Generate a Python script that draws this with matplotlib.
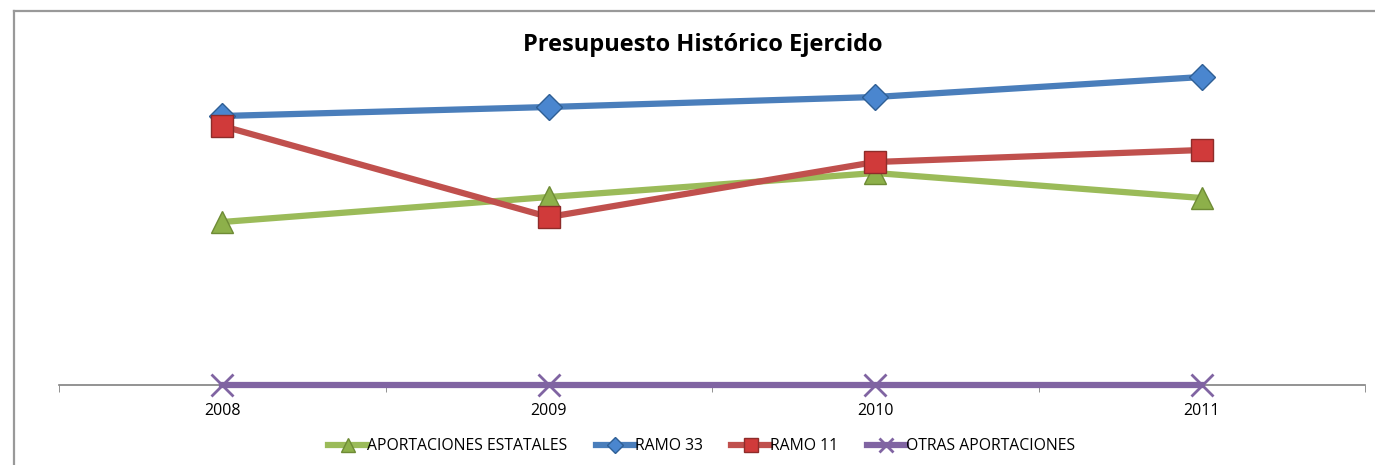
import matplotlib
matplotlib.use("Agg")
import matplotlib.pyplot as plt
from matplotlib.lines import Line2D

# valores estimados (escala arbitraria, millones)
years = ["2008", "2009", "2010", "2011"]
estatales = [163, 188, 212, 187]
ramo33 = [269, 278, 288, 308]
ramo11 = [259, 168, 223, 235]
otras = [0, 0, 0, 0]

plt.rcParams['font.family'] = ['Open Sans', 'DejaVu Sans']

fig = plt.figure(figsize=(13.75, 4.65), dpi=100)
ax = fig.add_axes([59 / 1375, 80 / 465, 1306 / 1375, 345 / 465])

x = range(len(years))
ax.plot(x, estatales, color='#9BBB59', lw=4.5, marker='^', ms=16,
        mfc='#8DB04A', mec='#6E8B35', label='APORTACIONES ESTATALES', zorder=3)
ax.plot(x, ramo33, color='#4A7EBB', lw=4.5, marker='D', ms=13,
        mfc='#4A86CF', mec='#2F5F95', label='RAMO 33', zorder=3)
ax.plot(x, ramo11, color='#C0504D', lw=4.5, marker='s', ms=16,
        mfc='#D03A3A', mec='#8E2C2A', label='RAMO 11', zorder=3)
ax.plot(x, otras, color='#8064A2', lw=4.5, marker='x', ms=16, mew=2,
        label='OTRAS APORTACIONES', zorder=4, clip_on=False)

ax.set_xlim(-0.5, 3.5)
ax.set_ylim(0, 345)
ax.set_xticks(list(x))
ax.set_xticklabels(years, fontsize=11.5)
ax.set_xticks([-0.5, 0.5, 1.5, 2.5, 3.5], minor=True)
ax.tick_params(axis='x', which='major', length=0, pad=13)
ax.tick_params(axis='x', which='minor', length=5, color='#808080', direction='out')
ax.set_yticks([])
for s in ['left', 'right', 'top']:
    ax.spines[s].set_visible(False)
ax.spines['bottom'].set_color('#808080')
ax.spines['bottom'].set_linewidth(1.2)

fig.text(0.511, 0.903, 'Presupuesto Histórico Ejercido', ha='center', va='center',
         fontsize=17, fontweight='bold')

ax.legend(loc='center', bbox_to_anchor=(0.492, -0.177), ncol=4, frameon=False,
          fontsize=11.3, handlelength=2.5, handletextpad=0.0, columnspacing=1.8,
          markerscale=0.6)

# borde del gráfico
fig.add_artist(Line2D([14 / 1375, 14 / 1375], [0, 1 - 11 / 465], color='#999999', lw=1.6))
fig.add_artist(Line2D([14 / 1375, 1374 / 1375], [1 - 11 / 465, 1 - 11 / 465], color='#999999', lw=1.6))

fig.savefig('out.png', dpi=100)
